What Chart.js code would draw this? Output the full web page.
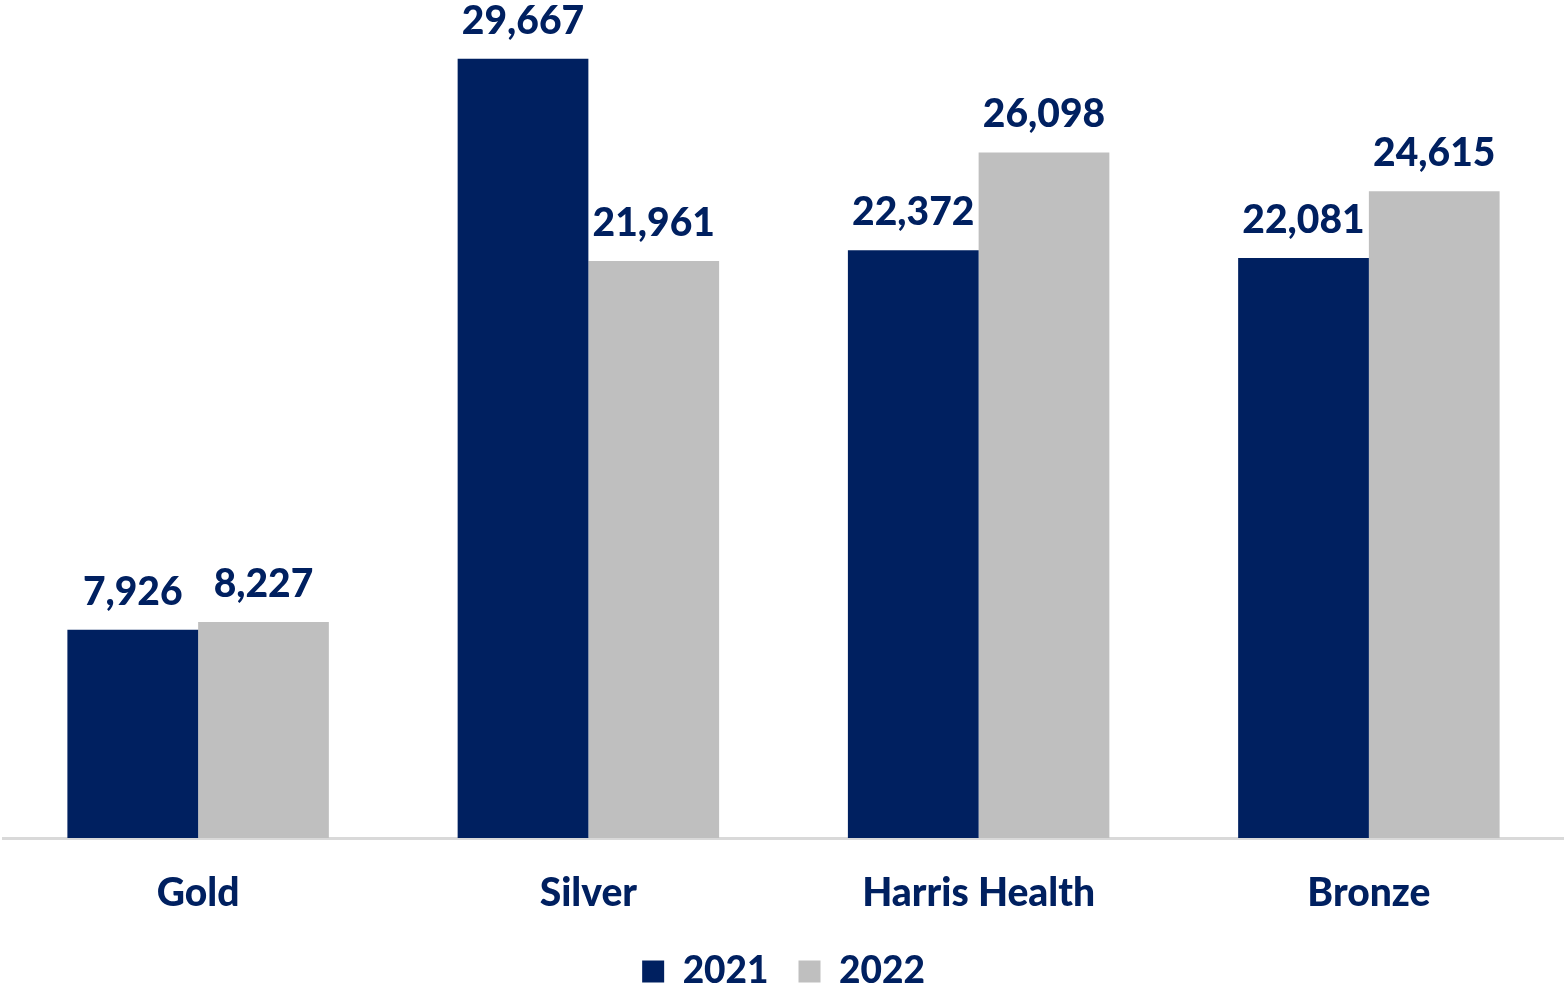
<!DOCTYPE html>
<html>
<head>
<meta charset="utf-8">
<script src="https://cdn.jsdelivr.net/npm/chart.js@4.4.1/dist/chart.umd.min.js"></script>
<style>
  html, body { margin: 0; padding: 0; background: #ffffff; }
  #wrap { width: 1564px; height: 991px; position: relative; }
</style>
</head>
<body>
<div id="wrap"><canvas id="tierChart"></canvas></div>
<script>
// --- data ---
const categories = ['Gold', 'Silver', 'Harris Health', 'Bronze'];
const values2021 = [7926, 29667, 22372, 22081];
const values2022 = [8227, 21961, 26098, 24615];
const seriesNames = ['2021', '2022'];

const NAVY = '#002060';
const GREY = '#bfbfbf';
const FONT = 'Lato, "Open Sans", sans-serif';

// value labels above each bar
const barLabels = {
    id: 'barLabels',
    afterDatasetsDraw(chart) {
        const ctx = chart.ctx;
        ctx.save();
        ctx.font = '900 39px ' + FONT;
        ctx.fillStyle = NAVY;
        ctx.textAlign = 'center';
        ctx.textBaseline = 'alphabetic';
        chart.data.datasets.forEach((ds, i) => {
            const meta = chart.getDatasetMeta(i);
            meta.data.forEach((bar, j) => {
                ctx.fillText(ds.data[j].toLocaleString('en-US'), bar.x, bar.y - 25);
            });
        });
        ctx.restore();
    }
};

new Chart(document.getElementById('tierChart'), {
    type: 'bar',
    data: {
        labels: categories,
        datasets: [
            { label: seriesNames[0], data: values2021, backgroundColor: NAVY },
            { label: seriesNames[1], data: values2022, backgroundColor: GREY }
        ]
    },
    options: {
        responsive: true,
        maintainAspectRatio: false,
        animation: false,
        devicePixelRatio: 1,
        layout: { padding: { left: 3, right: 0, top: 0, bottom: -9 } },
        datasets: { bar: { categoryPercentage: 0.67, barPercentage: 1.0 } },
        scales: {
            x: {
                grid: { display: false },
                border: { display: true, color: '#d9d9d9', width: 3 },
                ticks: { color: NAVY, font: { family: FONT, size: 39, weight: 900 }, padding: 24 },
                afterFit: function(scale) { scale.height = 85; }
            },
            y: {
                display: false,
                min: 0,
                max: 31900
            }
        },
        plugins: {
            legend: {
                position: 'bottom',
                labels: {
                    color: NAVY,
                    font: { family: FONT, size: 37, weight: 900 },
                    boxWidth: 22,
                    boxHeight: 22,
                    padding: 30
                }
            },
            tooltip: { enabled: false }
        }
    },
    plugins: [barLabels]
});
</script>
</body>
</html>
